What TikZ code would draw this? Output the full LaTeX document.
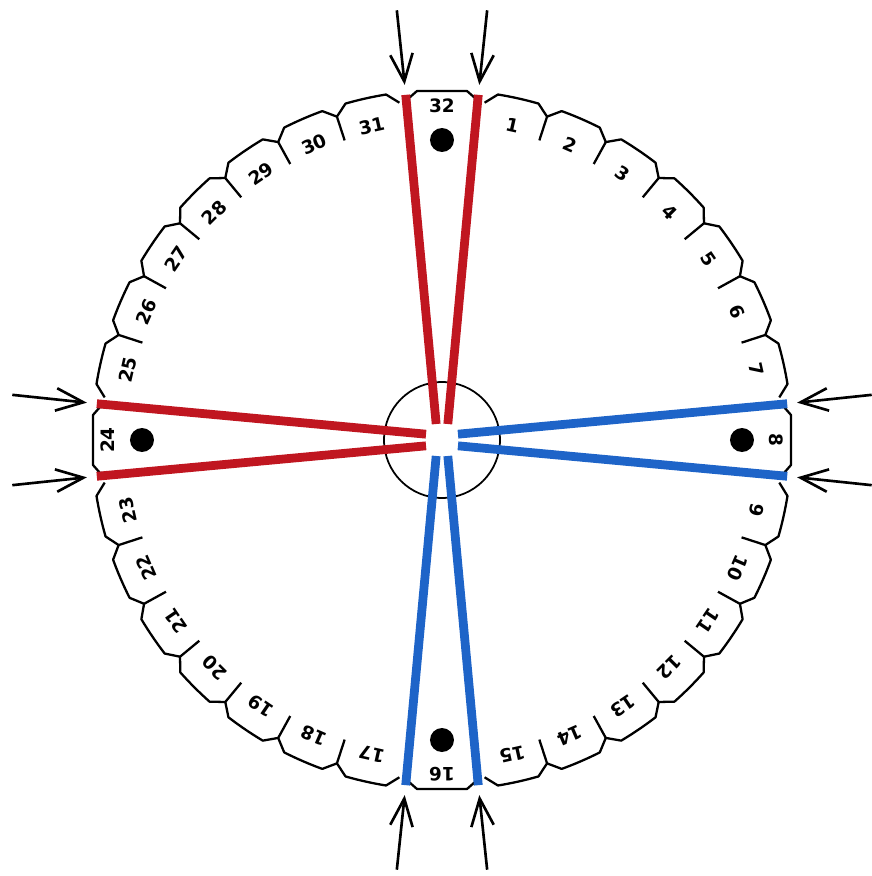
\documentclass[tikz,border=0pt]{standalone}
\usepackage{fontspec}
\setsansfont{DejaVu Sans}
\usepackage{xcolor}
\usepackage{tikz}
\usetikzlibrary{arrows.meta}
\definecolor{threadred}{RGB}{192,22,32}
\definecolor{threadblue}{RGB}{30,100,200}
\tikzset{
  rim/.style={draw, line width=1.3pt, line join=round},
  numlabel/.style={font=\sffamily\bfseries\fontsize{10.5}{12}\selectfont, inner sep=0pt},
  peg/.style={circle, fill=black, minimum size=4.8mm, inner sep=0pt},
  hub/.style={circle, draw, line width=1pt, minimum size=2.32cm, inner sep=0pt},
  redthread/.style={line width=5pt, draw=threadred},
  bluethread/.style={line width=5pt, draw=threadblue},
  movearc/.style={-{Straight Barb[length=5.5mm, width=4.5mm]}, line width=1.5pt}
}

\begin{document}
\begin{tikzpicture}[scale=0.02]
  \useasboundingbox (-442,-436) rectangle (430,440);

  % regular slots, seven per quarter
  \foreach \q in {0,1,2,3}{
    \foreach \j in {1,...,7}{
      \pgfmathsetmacro\a{90-90*\q-7.2-(\j-1)*10.8}
      \pgfmathsetmacro\b{\a-10.8}
      \pgfmathsetmacro\c{\a-5.4}
      \pgfmathtruncatemacro\n{8*\q+\j}
      \draw[rim] ({\a}:340) -- ({\a-2}:350)
        arc[start angle=\a-2, end angle=\b+2, radius=350] -- ({\b}:340);
      \node[numlabel, rotate=\c-90] (t\n) at ({\c}:322) {\n};
    }
    \foreach \j in {1,...,6}{
      \pgfmathsetmacro\s{90-90*\q-7.2-\j*10.8}
      \draw[rim] ({\s}:340) -- ({\s}:315);
    }
  }

  % wide slots with pegs
  \foreach \n/\t in {32/90, 8/0, 16/-90, 24/180}{
    \begin{scope}[rotate=\t-90]
      \draw[rim] (-33,310) -- (-33,342) -- (-25,349) -- (25,349) -- (33,342) -- (33,310);
      \node[numlabel, rotate=\t-90] (t\n) at (0,334) {\n};
      \node[peg] (d\n) at (0,300) {};
      \coordinate (s\n a) at (96:347);
      \coordinate (s\n b) at (84:347);
      \coordinate (c\n a) at (110:17);
      \coordinate (c\n b) at (70:17);
      \coordinate (w\n a) at (96:432);
      \coordinate (v\n a) at (96:357);
      \coordinate (w\n b) at (84:432);
      \coordinate (v\n b) at (84:357);
    \end{scope}
  }

  \node[hub] (centre) at (0,0) {};

  % threads
  \foreach \n in {32,24}{
    \draw[redthread] (s\n a) -- (c\n a);
    \draw[redthread] (s\n b) -- (c\n b);
  }
  \foreach \n in {8,16}{
    \draw[bluethread] (s\n a) -- (c\n a);
    \draw[bluethread] (s\n b) -- (c\n b);
  }

  % moves
  \foreach \n in {32,8,16,24}{
    \draw[movearc] (w\n a) -- (v\n a);
    \draw[movearc] (w\n b) -- (v\n b);
  }
\end{tikzpicture}
\end{document}
